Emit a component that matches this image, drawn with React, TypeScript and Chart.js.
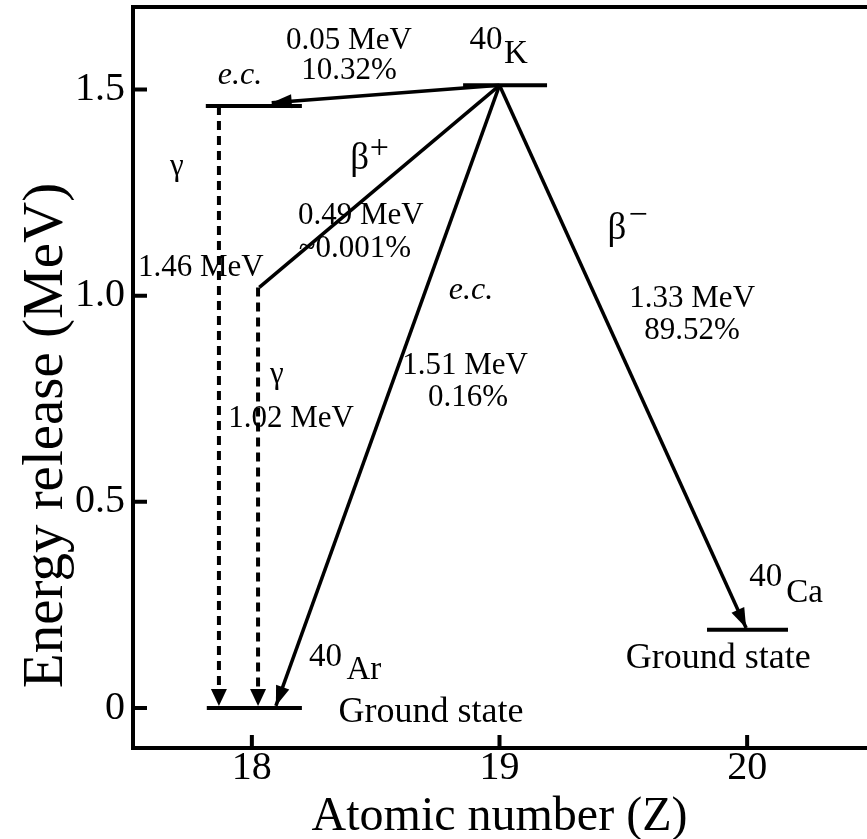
import React, { useEffect, useRef } from "react";
import { Chart, registerables } from "chart.js";

Chart.register(...registerables);

const FONT = '"Liberation Serif", "Times New Roman", Times, serif';

// Axes
const X_RANGE = [17.52, 20.48];
const Y_RANGE = [-0.097, 1.7];
const X_TICKS = [18, 19, 20];
const Y_TICKS = [0, 0.5, 1.0, 1.5];
const X_TITLE = "Atomic number (Z)";
const Y_TITLE = "Energy release (MeV)";

// Energy levels: [Z, energy (MeV)] end points
const K40_LEVEL = [[18.853, 1.51], [19.192, 1.51]];
const AR40_EXCITED = [[17.814, 1.46], [18.202, 1.46]];
const AR40_GROUND = [[17.818, 0], [18.202, 0]];
const CA40_GROUND = [[19.838, 0.19], [20.165, 0.19]];

// Decay transitions: [from, to]
const EC_EXCITED = [[19.0, 1.51], [18.08, 1.468]];
const BETA_PLUS = [[19.0, 1.51], [18.03, 1.02]];
const EC_GROUND = [[19.0, 1.51], [18.097, 0.005]];
const BETA_MINUS = [[19.0, 1.51], [19.996, 0.194]];
const GAMMA_146 = [[17.867, 1.46], [17.867, 0.005]];
const GAMMA_102 = [[18.025, 1.02], [18.025, 0.005]];

// Text annotations anchored in data coordinates (Z, MeV)
const LABELS = [
  { text: "0.05 MeV", z: 18.392, e: 1.619, kind: "value" },
  { text: "10.32%", z: 18.392, e: 1.546, kind: "value" },
  { text: "e.c.", z: 17.952, e: 1.534, kind: "italic" },
  { text: "40", z: 18.945, e: 1.619, kind: "nuclide" },
  { text: "K", z: 19.066, e: 1.585, kind: "nuclide" },
  { text: "γ", z: 17.697, e: 1.313, kind: "value" },
  { text: "1.46 MeV", z: 17.794, e: 1.068, kind: "value" },
  { text: "β", z: 18.435, e: 1.33, kind: "greek" },
  { text: "+", z: 18.515, e: 1.356, kind: "sign" },
  { text: "0.49 MeV", z: 18.44, e: 1.194, kind: "value" },
  { text: "~0.001%", z: 18.416, e: 1.114, kind: "value" },
  { text: "e.c.", z: 18.885, e: 1.012, kind: "italic" },
  { text: "β", z: 19.474, e: 1.16, kind: "greek" },
  { text: "−", z: 19.56, e: 1.194, kind: "sign" },
  { text: "1.33 MeV", z: 19.778, e: 0.993, kind: "value" },
  { text: "89.52%", z: 19.778, e: 0.915, kind: "value" },
  { text: "1.51 MeV", z: 18.861, e: 0.83, kind: "value" },
  { text: "0.16%", z: 18.873, e: 0.752, kind: "value" },
  { text: "γ", z: 18.101, e: 0.808, kind: "value" },
  { text: "1.02 MeV", z: 18.158, e: 0.701, kind: "value" },
  { text: "40", z: 18.297, e: 0.124, kind: "nuclide" },
  { text: "Ar", z: 18.452, e: 0.092, kind: "nuclide" },
  { text: "Ground state", z: 18.723, e: -0.012, kind: "state" },
  { text: "40", z: 20.075, e: 0.316, kind: "nuclide" },
  { text: "Ca", z: 20.232, e: 0.277, kind: "nuclide" },
  { text: "Ground state", z: 19.883, e: 0.121, kind: "state" },
];

const FONT_BY_KIND: Record<string, string> = {
  value: `31px ${FONT}`,
  italic: `italic 32px ${FONT}`,
  nuclide: `33px ${FONT}`,
  state: `36px ${FONT}`,
  greek: `37px ${FONT}`,
  sign: `34px ${FONT}`,
};

const toPts = (pts: number[][]) => pts.map(([x, y]) => ({ x, y }));

const decorPlugin = {
  id: "decor",
  afterDatasetsDraw(chart: any) {
    const { ctx, scales } = chart;
    ctx.save();
    // arrow heads
    chart.data.datasets.forEach((ds: any, i: number) => {
      if (!ds.arrow) return;
      const meta = chart.getDatasetMeta(i);
      const n = meta.data.length;
      const p0 = meta.data[n - 2];
      const p1 = meta.data[n - 1];
      const ang = Math.atan2(p1.y - p0.y, p1.x - p0.x);
      const len = ds.arrowLen;
      const hw = ds.arrowHalf;
      ctx.beginPath();
      ctx.moveTo(p1.x, p1.y);
      ctx.lineTo(
        p1.x - len * Math.cos(ang) + hw * Math.sin(ang),
        p1.y - len * Math.sin(ang) - hw * Math.cos(ang)
      );
      ctx.lineTo(
        p1.x - len * Math.cos(ang) - hw * Math.sin(ang),
        p1.y - len * Math.sin(ang) + hw * Math.cos(ang)
      );
      ctx.closePath();
      ctx.fillStyle = "#000";
      ctx.fill();
    });
    // annotations
    ctx.fillStyle = "#000";
    ctx.textAlign = "center";
    ctx.textBaseline = "middle";
    LABELS.forEach((l) => {
      ctx.font = FONT_BY_KIND[l.kind];
      ctx.fillText(l.text, scales.x.getPixelForValue(l.z), scales.y.getPixelForValue(l.e));
    });
    ctx.restore();
  },
  afterDraw(chart: any) {
    const { ctx, chartArea, scales } = chart;
    ctx.save();
    ctx.strokeStyle = "#000";
    ctx.lineWidth = 4;
    // top frame
    ctx.beginPath();
    ctx.moveTo(chartArea.left - 2, chartArea.top);
    ctx.lineTo(chartArea.right + 2, chartArea.top);
    ctx.stroke();
    // inward tick marks
    ctx.beginPath();
    scales.x.ticks.forEach((t: any) => {
      const px = scales.x.getPixelForValue(t.value);
      ctx.moveTo(px, chartArea.bottom);
      ctx.lineTo(px, chartArea.bottom - 13);
    });
    scales.y.ticks.forEach((t: any) => {
      const py = scales.y.getPixelForValue(t.value);
      ctx.moveTo(chartArea.left, py);
      ctx.lineTo(chartArea.left + 14, py);
    });
    ctx.stroke();
    // y-axis title (rotated)
    ctx.fillStyle = "#000";
    ctx.font = `57px ${FONT}`;
    ctx.textAlign = "center";
    ctx.textBaseline = "middle";
    ctx.translate(chartArea.left - 86, (chartArea.top + chartArea.bottom) / 2 + 58);
    ctx.rotate(-Math.PI / 2);
    ctx.fillText(Y_TITLE, 0, 0);
    ctx.restore();
  },
};

export default function App() {
  const ref = useRef<HTMLCanvasElement>(null);
  useEffect(() => {
    const canvas = ref.current!;
    const level = (pts: number[][]) => ({
      data: toPts(pts),
      borderColor: "#000",
      borderWidth: 4,
      showLine: true,
    });
    const trans = (pts: number[][], arrow: boolean) => ({
      data: toPts(pts),
      borderColor: "#000",
      borderWidth: 3.5,
      showLine: true,
      arrow,
      arrowLen: 20,
      arrowHalf: 7,
    });
    const gamma = (pts: number[][]) => ({
      data: toPts(pts),
      borderColor: "#000",
      borderWidth: 4,
      borderDash: [9, 6],
      showLine: true,
      arrow: true,
      arrowLen: 17,
      arrowHalf: 8,
    });
    const chart = new Chart(canvas, {
      type: "scatter",
      data: {
        datasets: [
          level(K40_LEVEL),
          level(AR40_EXCITED),
          level(AR40_GROUND),
          level(CA40_GROUND),
          trans(EC_EXCITED, true),
          trans(BETA_PLUS, false),
          trans(EC_GROUND, true),
          trans(BETA_MINUS, true),
          gamma(GAMMA_146),
          gamma(GAMMA_102),
        ] as any,
      },
      options: {
        animation: false,
        responsive: false,
        devicePixelRatio: 1,
        layout: { padding: { top: 7, right: 1, left: 0, bottom: 0 } },
        elements: { point: { radius: 0, hoverRadius: 0 }, line: { tension: 0 } },
        plugins: { legend: { display: false }, tooltip: { enabled: false } },
        events: [],
        scales: {
          x: {
            type: "linear",
            min: X_RANGE[0],
            max: X_RANGE[1],
            grid: { display: false, drawTicks: false },
            border: { display: true, width: 4, color: "#000" },
            ticks: {
              color: "#000",
              font: { family: FONT, size: 40, lineHeight: 1 },
              padding: 0,
              maxRotation: 0,
              callback: (v: any) => String(v),
            },
            title: {
              display: true,
              text: X_TITLE,
              color: "#000",
              font: { family: FONT, size: 48, lineHeight: 1 },
              padding: { top: 0, bottom: -2 },
            },
            afterBuildTicks: (s: any) => {
              s.ticks = X_TICKS.map((value) => ({ value }));
            },
            afterFit: (s: any) => {
              s.height = 91;
              s.paddingLeft = 0;
              s.paddingRight = 0;
            },
          },
          y: {
            type: "linear",
            min: Y_RANGE[0],
            max: Y_RANGE[1],
            grid: { display: false, drawTicks: false },
            border: { display: true, width: 4, color: "#000" },
            ticks: {
              color: "#000",
              font: { family: FONT, size: 40, lineHeight: 1 },
              padding: 8,
              callback: (v: any) => (v === 0 ? "0" : Number(v).toFixed(1)),
            },
            title: { display: false, text: Y_TITLE },
            afterBuildTicks: (s: any) => {
              s.ticks = Y_TICKS.map((value) => ({ value }));
            },
            afterFit: (s: any) => {
              s.width = 133;
              s.paddingTop = 0;
              s.paddingBottom = 0;
            },
          },
        },
      } as any,
      plugins: [decorPlugin],
    });
    return () => chart.destroy();
  }, []);
  return (
    <div style={{ position: "absolute", left: 0, top: 0, width: 867, height: 839, background: "#fff", overflow: "hidden" }}>
      <canvas ref={ref} width={867} height={839} style={{ display: "block" }} />
    </div>
  );
}
